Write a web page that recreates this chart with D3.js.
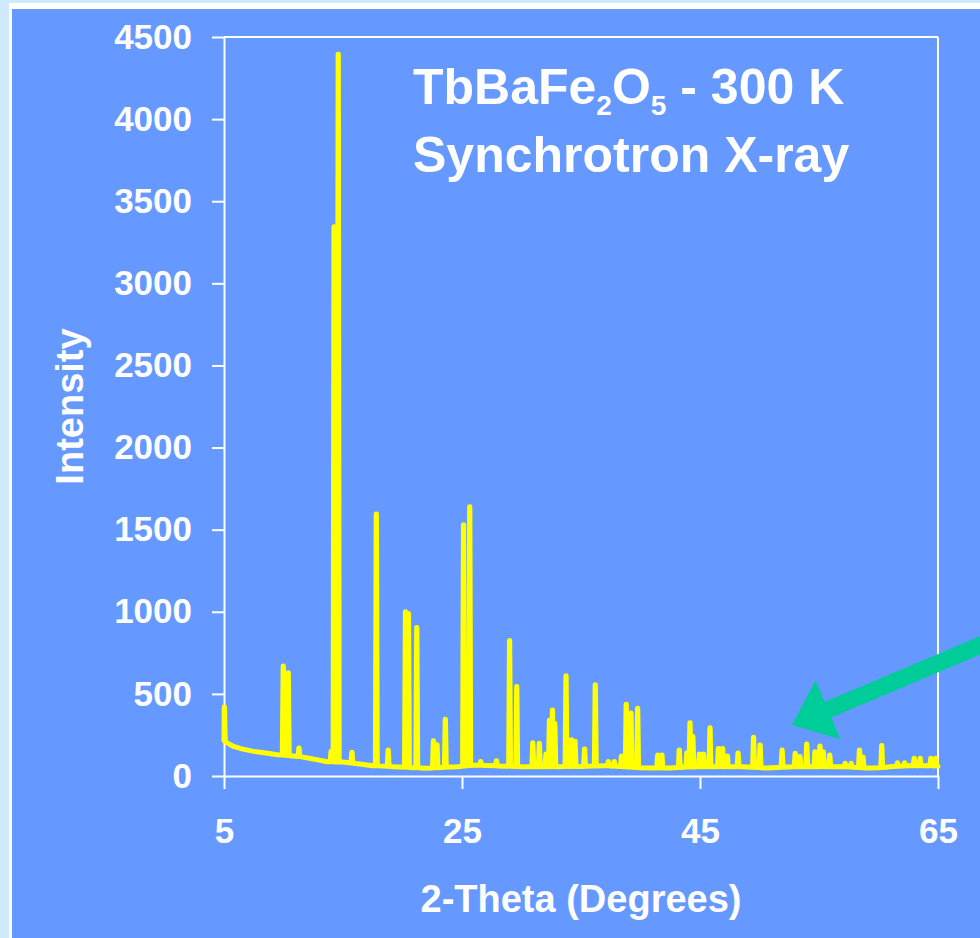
<!DOCTYPE html>
<html>
<head>
<meta charset="utf-8">
<script src="https://cdn.jsdelivr.net/npm/d3@7"></script>
<style>
  html, body { margin: 0; padding: 0; background: #cfe9ff; }
  svg { display: block; }
  text { font-family: "Liberation Sans", Arial, Helvetica, sans-serif; font-weight: bold; fill: #ffffff; }
</style>
</head>
<body>
<svg id="chart" width="980" height="938"></svg>
<script>
// Axis ticks
const xTicks = [5, 25, 45, 65];
const yTicks = [0, 500, 1000, 1500, 2000, 2500, 3000, 3500, 4000, 4500];

// Diffuse background of the pattern (2-theta in degrees, counts)
const backgroundTheta = [5.0, 5.3, 5.8, 6.5, 7.5, 8.5, 9.5, 10.5, 11.4, 12.5, 13.65, 15.0, 16.4, 17.5, 19.2, 22.0, 24.6, 26.0, 27.0, 28.5, 30.0, 33.0, 35.0, 37.0, 40.0, 42.5, 44.0, 46.0, 48.5, 50.5, 51.5, 53.0, 55.5, 57.0, 59.0, 60.0, 61.0, 62.5, 64.5, 65.0];
const backgroundIntensity = [215, 200, 180, 165, 150, 140, 130, 124, 118, 104, 87, 85, 73, 63, 57, 47, 57, 66, 64, 60, 57, 57, 58, 63, 50, 49, 55, 57, 57, 49, 52, 56, 57, 57, 49, 50, 57, 62, 62, 60];

// Reflections: peak position (2-theta) and peak intensity
const peakTheta = [5.03, 9.98, 10.4, 11.3, 14.0, 14.25, 14.6, 15.75, 17.8, 18.8, 20.25, 20.5, 21.2, 22.6, 22.9, 23.6, 25.13, 25.65, 26.57, 27.9, 29.0, 29.6, 30.95, 31.5, 32.06, 32.35, 32.6, 32.8, 33.74, 34.2, 34.5, 35.3, 36.2, 37.3, 37.8, 38.4, 38.8, 39.2, 39.76, 41.45, 41.8, 43.26, 43.9, 44.16, 44.4, 44.95, 45.3, 45.84, 46.55, 46.9, 47.3, 48.2, 49.5, 50.05, 51.9, 53.0, 53.4, 53.97, 54.66, 55.08, 55.36, 55.9, 57.2, 57.7, 58.4, 58.7, 60.27, 61.6, 62.2, 63.0, 63.5, 64.4, 64.8];
const peakIntensity = [420, 670, 628, 170, 150, 3345, 4395, 145, 1595, 158, 1000, 990, 905, 215, 190, 345, 1530, 1640, 88, 93, 825, 545, 203, 200, 134, 340, 402, 320, 610, 220, 212, 165, 555, 88, 88, 122, 437, 384, 412, 128, 128, 158, 142, 325, 240, 134, 134, 294, 168, 168, 122, 140, 236, 189, 158, 138, 118, 195, 148, 183, 148, 128, 77, 77, 158, 116, 185, 81, 81, 108, 108, 108, 108];

// Annotation arrow, tail and tip in (2-theta, intensity)
const arrowTail = [71.05, 872];
const arrowTip = [52.73, 311];

const svg = d3.select("#chart");
const W = 980, H = 938;

// Slide-style backdrop: pale margin, white rule, blue panel
svg.append("rect").attr("x", 0).attr("y", 0).attr("width", W).attr("height", H).attr("fill", "#cfe9ff");
svg.append("rect").attr("x", 9).attr("y", 3).attr("width", W).attr("height", H).attr("fill", "#ffffff");
svg.append("rect").attr("x", 12).attr("y", 9).attr("width", W).attr("height", H).attr("fill", "#6699ff");

const x = d3.scaleLinear().domain([5, 65]).range([224, 938]);
const y = d3.scaleLinear().domain([0, 4500]).range([776, 37]);

// Frame (top and right edges of the plot area)
const frame = svg.append("g").attr("stroke", "#ffffff").attr("stroke-width", 2);
frame.append("line").attr("x1", x(5)).attr("x2", x(65)).attr("y1", y(4500)).attr("y2", y(4500));
frame.append("line").attr("x1", x(65)).attr("x2", x(65)).attr("y1", y(4500)).attr("y2", y(0));

// Axes
const yAxis = svg.append("g")
  .attr("transform", `translate(${x(5)},0)`)
  .call(d3.axisLeft(y).tickValues(yTicks).tickSize(12).tickSizeOuter(0).tickPadding(20).tickFormat(d3.format("d")));
const xAxis = svg.append("g")
  .attr("transform", `translate(0,${y(0)})`)
  .call(d3.axisBottom(x).tickValues(xTicks).tickSize(13).tickSizeOuter(0).tickPadding(29).tickFormat(d3.format("d")));

[xAxis, yAxis].forEach(g => {
  g.selectAll("path, line").attr("stroke", "#ffffff").attr("stroke-width", 2);
  g.selectAll("text")
    .attr("fill", "#ffffff")
    .style("font-family", '"Liberation Sans", Arial, sans-serif')
    .style("font-weight", "bold")
    .style("font-size", "35px");
});

// Build the diffraction profile: background plus a narrow spike per reflection
const bgAt = d3.scaleLinear().domain(backgroundTheta).range(backgroundIntensity).clamp(true);
const halfWidth = 0.08;
const pts = [];
backgroundTheta.forEach((t, i) => {
  if (!peakTheta.some(p => Math.abs(p - t) < halfWidth + 0.01)) pts.push([t, backgroundIntensity[i]]);
});
peakTheta.forEach((p, i) => {
  const left = Math.max(5, p - halfWidth);
  const right = Math.min(65, p + halfWidth);
  pts.push([left, bgAt(left)], [p - 0.01, peakIntensity[i]], [p + 0.01, peakIntensity[i]], [right, bgAt(right)]);
});
pts.sort((a, b) => a[0] - b[0]);

const line = d3.line().x(d => x(d[0])).y(d => y(d[1]));
svg.append("path")
  .datum(pts)
  .attr("d", line)
  .attr("fill", "none")
  .attr("stroke", "#ffff00")
  .attr("stroke-width", 5)
  .attr("stroke-linejoin", "round")
  .attr("stroke-linecap", "round");

// Axis titles
svg.append("text")
  .attr("x", (x(5) + x(65)) / 2)
  .attr("y", 912)
  .attr("text-anchor", "middle")
  .style("font-size", "38px")
  .text("2-Theta (Degrees)");

svg.append("text")
  .attr("transform", `translate(83,${(y(0) + y(4500)) / 2}) rotate(-90)`)
  .attr("text-anchor", "middle")
  .style("font-size", "38px")
  .text("Intensity");

// Title with chemical formula subscripts
const t1 = svg.append("text").attr("x", 413).attr("y", 104).style("font-size", "50px");
t1.append("tspan").text("TbBaFe");
t1.append("tspan").attr("dy", 11).style("font-size", "28px").text("2");
t1.append("tspan").attr("dy", -11).text("O");
t1.append("tspan").attr("dy", 11).style("font-size", "28px").text("5");
t1.append("tspan").attr("dy", -11).text(" - 300 K");

svg.append("text").attr("x", 413).attr("y", 172).style("font-size", "50px").text("Synchrotron X-ray");

// Annotation arrow pointing at the weak high-angle reflections
const [x0, y0] = [x(arrowTail[0]), y(arrowTail[1])];
const [x1, y1] = [x(arrowTip[0]), y(arrowTip[1])];
const len = Math.hypot(x1 - x0, y1 - y0);
const ux = (x1 - x0) / len, uy = (y1 - y0) / len;
const nx = -uy, ny = ux;
const headLen = 39, headHalf = 32, shaftHalf = 8.5;
const bx = x1 - ux * headLen, by = y1 - uy * headLen;
const arrowPts = [
  [x0 + nx * shaftHalf, y0 + ny * shaftHalf],
  [bx + nx * shaftHalf, by + ny * shaftHalf],
  [bx + nx * headHalf, by + ny * headHalf],
  [x1, y1],
  [bx - nx * headHalf, by - ny * headHalf],
  [bx - nx * shaftHalf, by - ny * shaftHalf],
  [x0 - nx * shaftHalf, y0 - ny * shaftHalf]
];
svg.append("polygon")
  .attr("points", arrowPts.map(p => p.join(",")).join(" "))
  .attr("fill", "#00cc99");
</script>
</body>
</html>
